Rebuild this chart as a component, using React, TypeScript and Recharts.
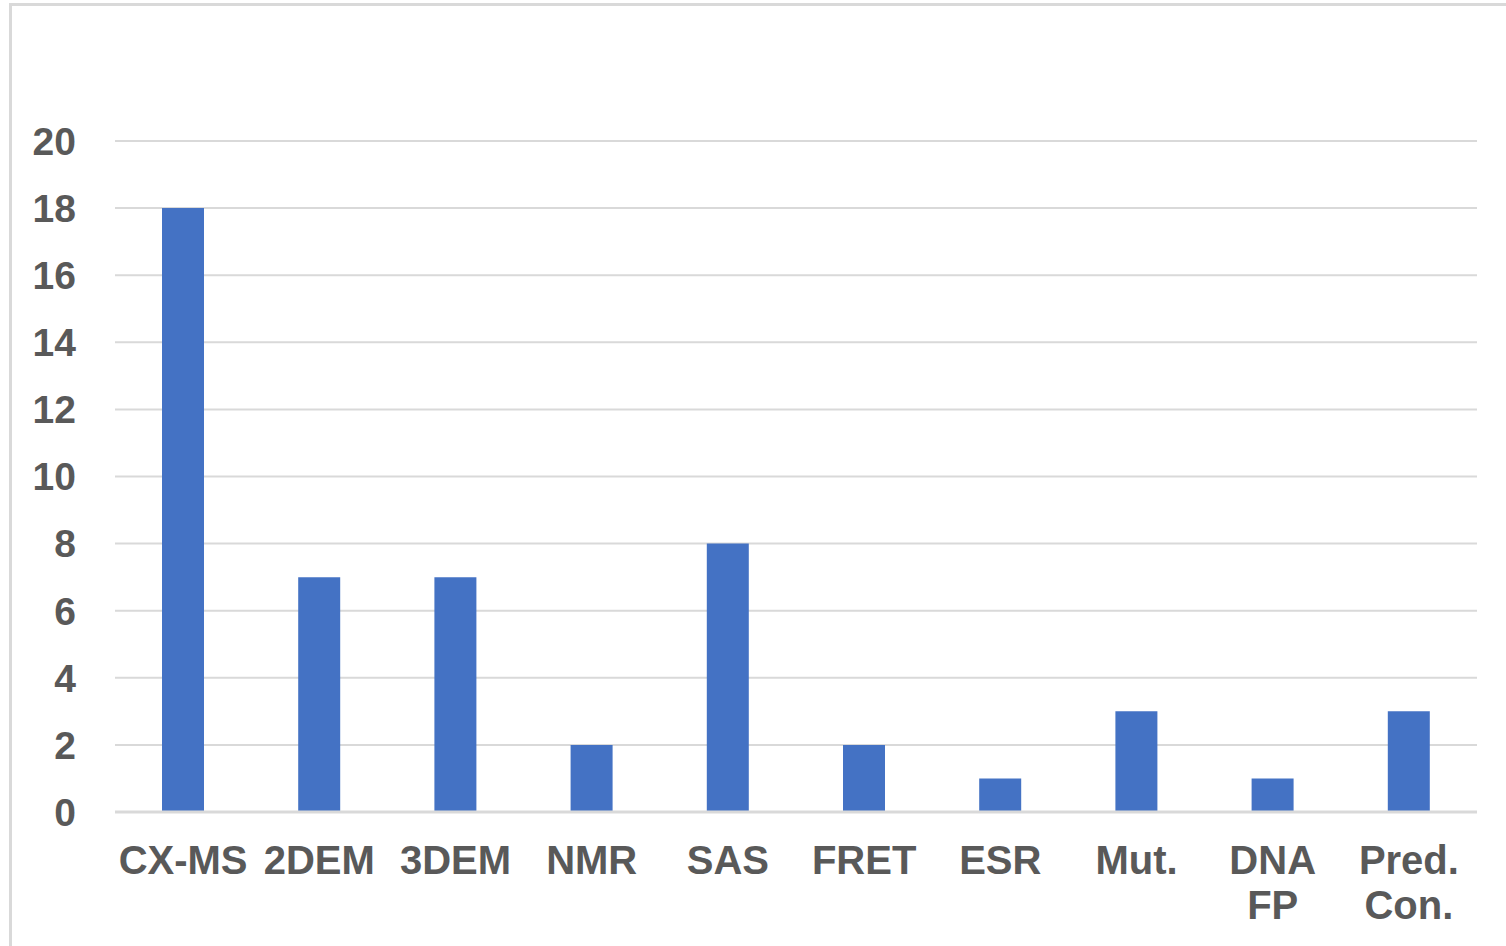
import React from "react";
import { BarChart, Bar, XAxis, YAxis, CartesianGrid } from "recharts";

const categories = ["CX-MS", "2DEM", "3DEM", "NMR", "SAS", "FRET", "ESR", "Mut.", "DNA\nFP", "Pred.\nCon."];
const counts = [18, 7, 7, 2, 8, 2, 1, 3, 1, 3];
const yTicks = [0, 2, 4, 6, 8, 10, 12, 14, 16, 18, 20];

const data = categories.map((c, i) => ({ name: c, value: counts[i] }));

const FONT = "'Liberation Sans', Arial, Helvetica, sans-serif";
const TEXT = "#595959";

const XTick = (props: any) => {
  const { x, y, payload } = props;
  const lines = String(payload.value).split("\n");
  return (
    <text x={x} y={y} textAnchor="middle" fill={TEXT} fontFamily={FONT} fontWeight="bold" fontSize={40}>
      {lines.map((l, i) => (
        <tspan key={i} x={x} y={y + 60 + i * 45}>{l}</tspan>
      ))}
    </text>
  );
};

export default function App() {
  return (
    <div style={{ position: "fixed", left: 0, top: 0, width: 1506, height: 946, overflow: "hidden", background: "#fff" }}>
      <div style={{ position: "absolute", left: 9, top: 3, width: 1540, height: 980, border: "3px solid #d9d9d9", boxSizing: "border-box" }} />
      <div style={{ position: "absolute", left: 0, top: 0 }}>
        <BarChart width={1506} height={946} data={data} margin={{ top: 141, right: 29, left: 0, bottom: 0 }}>
          <CartesianGrid vertical={false} stroke="#d9d9d9" strokeWidth={2} />
          <XAxis
            dataKey="name"
            height={134}
            interval={0}
            tickLine={false}
            axisLine={{ stroke: "#d9d9d9", strokeWidth: 3 }}
            tickSize={0}
            tick={<XTick />}
          />
          <YAxis
            width={115}
            domain={[0, 20]}
            ticks={yTicks}
            interval={0}
            axisLine={false}
            tickLine={false}
            tickSize={0}
            tickMargin={39}
            tick={{ fill: TEXT, fontFamily: FONT, fontWeight: "bold", fontSize: 39 }}
          />
          <Bar dataKey="value" fill="#4472C4" barSize={42} isAnimationActive={false} />
        </BarChart>
      </div>
    </div>
  );
}
